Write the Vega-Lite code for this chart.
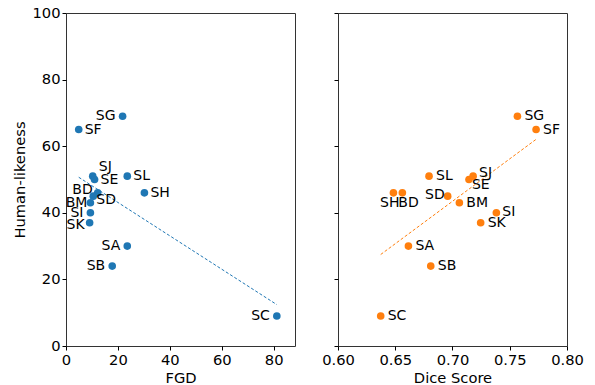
{
  "$schema": "https://vega.github.io/schema/vega-lite/v6.json",
  "padding": {"left": 12, "top": 4, "right": 0, "bottom": 0},
  "config": {
    "font": "DejaVu Sans",
    "view": {"stroke": "#333", "strokeWidth": 1},
    "axis": {"grid": false, "domain": false, "tickColor": "#000", "tickSize": 4, "labelFontSize": 14.7, "titleFontSize": 14.7, "labelColor": "#000", "titleColor": "#000", "titleFontWeight": "normal", "labelPadding": 2, "labelFlush": false, "labelFont": "DejaVu Sans", "titleFont": "DejaVu Sans"},
    "text": {"font": "DejaVu Sans", "fontSize": 14, "baseline": "middle", "color": "#000"}
  },
  "datasets": {
    "pts": [
      {"label": "SG", "fgd": 21.8, "dice": 0.7567, "human": 69},
      {"label": "SF", "fgd": 4.9, "dice": 0.773, "human": 65},
      {"label": "SJ", "fgd": 10.3, "dice": 0.718, "human": 51},
      {"label": "SE", "fgd": 11.0, "dice": 0.7144, "human": 50},
      {"label": "SL", "fgd": 23.6, "dice": 0.6795, "human": 51},
      {"label": "SH", "fgd": 30.2, "dice": 0.6484, "human": 46},
      {"label": "BD", "fgd": 12.2, "dice": 0.6562, "human": 46},
      {"label": "SD", "fgd": 10.5, "dice": 0.6958, "human": 45},
      {"label": "BM", "fgd": 9.4, "dice": 0.706, "human": 43},
      {"label": "SI", "fgd": 9.4, "dice": 0.7383, "human": 40},
      {"label": "SK", "fgd": 9.1, "dice": 0.7246, "human": 37},
      {"label": "SA", "fgd": 23.6, "dice": 0.6615, "human": 30},
      {"label": "SB", "fgd": 17.8, "dice": 0.681, "human": 24},
      {"label": "SC", "fgd": 81.2, "dice": 0.6373, "human": 9}
    ]
  },
  "spacing": 25,
  "hconcat": [
    {
      "width": 229,
      "height": 333,
      "data": {"name": "pts"},
      "encoding": {
        "x": {"field": "fgd", "type": "quantitative", "title": "FGD", "scale": {"domain": [0, 88.2], "nice": false, "zero": false}, "axis": {"values": [0, 20, 40, 60, 80]}},
        "y": {"field": "human", "type": "quantitative", "title": "Human-likeness", "scale": {"domain": [0, 100], "nice": false}, "axis": {"values": [0, 20, 40, 60, 80, 100]}}
      },
      "layer": [
        {"transform": [{"regression": "human", "on": "fgd"}], "mark": {"type": "line", "color": "#1f77b4", "strokeWidth": 1, "strokeDash": [3, 2]}},
        {"mark": {"type": "circle", "color": "#1f77b4", "opacity": 1, "size": 58}},
        {"transform": [{"filter": {"field": "label", "oneOf": ["SG", "SI", "SA", "SB", "SC"]}}], "mark": {"type": "text", "align": "right", "dx": -7}, "encoding": {"text": {"field": "label"}}},
        {"transform": [{"filter": {"field": "label", "oneOf": ["BD"]}}], "mark": {"type": "text", "align": "right", "dx": -5, "dy": -3}, "encoding": {"text": {"field": "label"}}},
        {"transform": [{"filter": {"field": "label", "oneOf": ["BM"]}}], "mark": {"type": "text", "align": "right", "dx": -3}, "encoding": {"text": {"field": "label"}}},
        {"transform": [{"filter": {"field": "label", "oneOf": ["SK"]}}], "mark": {"type": "text", "align": "right", "dx": -5, "dy": 2}, "encoding": {"text": {"field": "label"}}},
        {"transform": [{"filter": {"field": "label", "oneOf": ["SF", "SL", "SH", "SE"]}}], "mark": {"type": "text", "align": "left", "dx": 6}, "encoding": {"text": {"field": "label"}}},
        {"transform": [{"filter": {"field": "label", "oneOf": ["SJ"]}}], "mark": {"type": "text", "align": "left", "dx": 6, "dy": -9}, "encoding": {"text": {"field": "label"}}},
        {"transform": [{"filter": {"field": "label", "oneOf": ["SD"]}}], "mark": {"type": "text", "align": "left", "dx": 3, "dy": 4}, "encoding": {"text": {"field": "label"}}}
      ]
    },
    {
      "width": 229,
      "height": 333,
      "data": {"name": "pts"},
      "encoding": {
        "x": {"field": "dice", "type": "quantitative", "title": "Dice Score", "scale": {"domain": [0.6, 0.8], "nice": false, "zero": false}, "axis": {"values": [0.6, 0.65, 0.7, 0.75, 0.8], "format": ".2f"}},
        "y": {"field": "human", "type": "quantitative", "title": null, "scale": {"domain": [0, 100], "nice": false}, "axis": {"values": [0, 20, 40, 60, 80, 100], "labels": false}}
      },
      "layer": [
        {"transform": [{"regression": "human", "on": "dice"}], "mark": {"type": "line", "color": "#ff7f0e", "strokeWidth": 1, "strokeDash": [3, 2]}},
        {"mark": {"type": "circle", "color": "#ff7f0e", "opacity": 1, "size": 58}},
        {"transform": [{"filter": {"field": "label", "oneOf": ["SG", "SF", "SL", "BM", "SK", "SA", "SB", "SC"]}}], "mark": {"type": "text", "align": "left", "dx": 7}, "encoding": {"text": {"field": "label"}}},
        {"transform": [{"filter": {"field": "label", "oneOf": ["SI"]}}], "mark": {"type": "text", "align": "left", "dx": 6, "dy": -1}, "encoding": {"text": {"field": "label"}}},
        {"transform": [{"filter": {"field": "label", "oneOf": ["SJ"]}}], "mark": {"type": "text", "align": "left", "dx": 6, "dy": -3}, "encoding": {"text": {"field": "label"}}},
        {"transform": [{"filter": {"field": "label", "oneOf": ["SE"]}}], "mark": {"type": "text", "align": "left", "dx": 3, "dy": 5}, "encoding": {"text": {"field": "label"}}},
        {"transform": [{"filter": {"field": "label", "oneOf": ["SH"]}}], "mark": {"type": "text", "align": "right", "dx": 6, "dy": 10}, "encoding": {"text": {"field": "label"}}},
        {"transform": [{"filter": {"field": "label", "oneOf": ["BD"]}}], "mark": {"type": "text", "align": "left", "dx": -4, "dy": 10}, "encoding": {"text": {"field": "label"}}},
        {"transform": [{"filter": {"field": "label", "oneOf": ["SD"]}}], "mark": {"type": "text", "align": "right", "dx": -3, "dy": -1}, "encoding": {"text": {"field": "label"}}}
      ]
    }
  ]
}
